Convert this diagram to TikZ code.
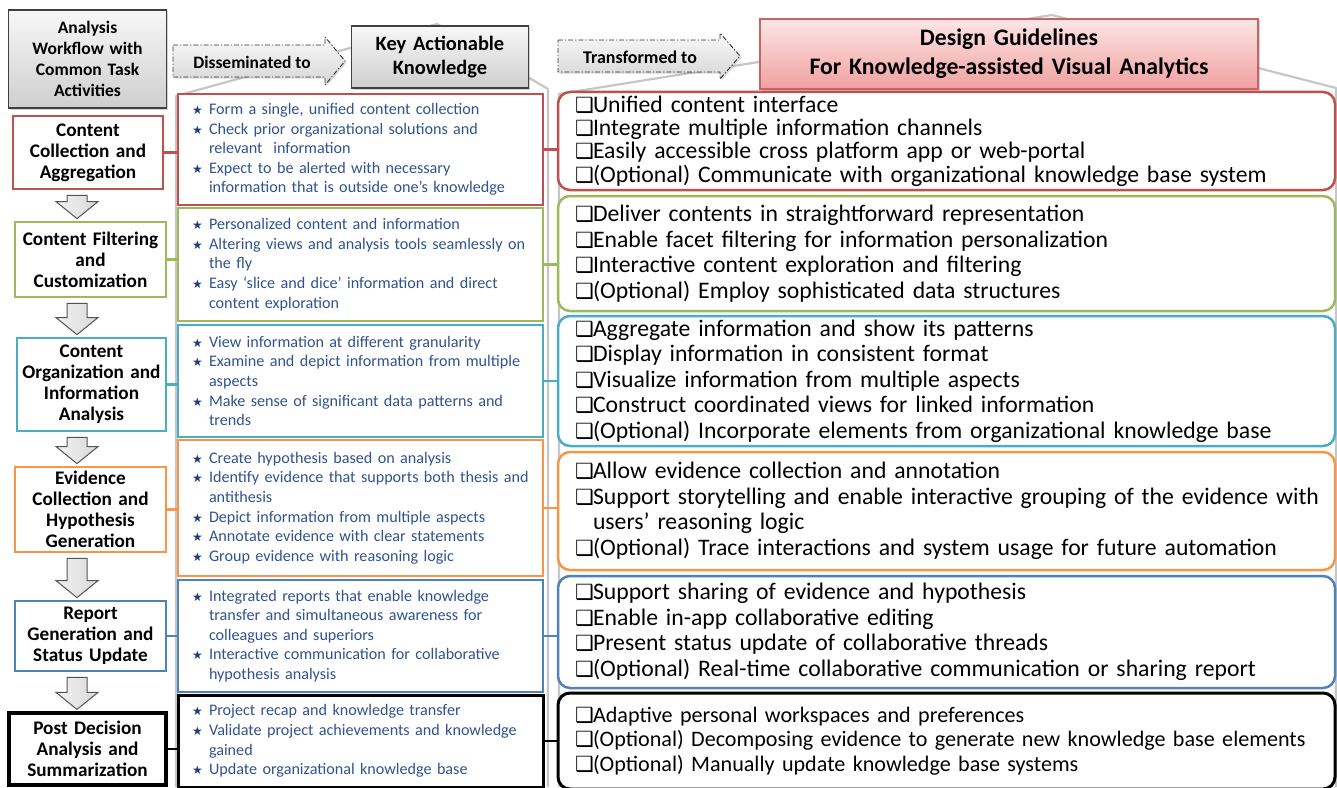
\documentclass[tikz,border=0pt]{standalone}
\usepackage{fontspec}
\setmainfont{Carlito}
\newfontfamily\symfont{DejaVu Sans}
\usetikzlibrary{calc,shadows}

\definecolor{cred}{HTML}{C0504D}
\definecolor{cgreen}{HTML}{9BBB59}
\definecolor{cteal}{HTML}{4BACC6}
\definecolor{corange}{HTML}{F79646}
\definecolor{cblue}{HTML}{4F81BD}
\definecolor{ktext}{HTML}{30538F}
\definecolor{kstar}{HTML}{1F3F7F}
\definecolor{pinktop}{HTML}{FDE6E6}
\definecolor{pinkbot}{HTML}{F0A0A0}
\definecolor{pinkline}{HTML}{C86464}

% bullet items of the knowledge column
\newcommand{\itm}[1]{\mbox{\makebox[17bp][l]{\color{kstar}\symfont\fontsize{12}{12}\selectfont ★}#1}}
\newcommand{\cnt}[1]{\mbox{\hspace*{17bp}#1}}
% check-box items of the guideline column
\newcommand{\chk}[1]{\mbox{\makebox[18bp][l]{\symfont\fontsize{21}{21}\selectfont ❑}#1}}
\newcommand{\chkcnt}[1]{\mbox{\hspace*{18bp}#1}}

\begin{document}
\begin{tikzpicture}[x=1bp,y=-1bp,
  hdrbox/.style={draw=black!75, line width=1.2bp, top color=gray!6, bottom color=gray!38,
    align=center, font=\bfseries, drop shadow={shadow xshift=1.5bp, shadow yshift=-1.5bp, opacity=0.35}},
  pinkbox/.style={draw=pinkline, line width=1.2bp, top color=pinktop, bottom color=pinkbot,
    align=center, drop shadow={shadow xshift=1.5bp, shadow yshift=-1.5bp, opacity=0.35}},
  lbox/.style={draw=#1, line width=2.8bp, fill=white, align=center, inner xsep=3bp, inner ysep=0bp,
    font=\fontsize{19.3}{21}\selectfont\bfseries},
  mbox/.style={draw=#1, line width=2.5bp, fill=white, align=left, inner xsep=14bp, inner ysep=0bp,
    text width=337bp, text=ktext, font=\fontsize{16.2}{19.7}\selectfont},
  rbox/.style={draw=#1, line width=2.5bp, rounded corners=12bp, fill=white, align=left,
    inner xsep=17bp, inner ysep=0bp, text width=743bp, font=\fontsize{23.8}{25.6}\selectfont},
  link/.style={draw=#1, line width=2.5bp},
  callout/.style={draw=gray!45, line width=2.2bp, line join=round},
  flatarrow/.style={draw=black!80, line width=0.9bp, dash pattern=on 5bp off 2bp on 1.2bp off 2bp,
    top color=gray!5, bottom color=gray!32,
    drop shadow={shadow xshift=1.5bp, shadow yshift=-1.5bp, opacity=0.3}},
  downarr/.style={draw=gray!65!black, line width=1bp, left color=gray!10, right color=gray!30}
]
\useasboundingbox (0,0) rectangle (1337,787);

% grey brackets linking each column to its heading
\draw[callout] (176,787) -- (176,96) -- (437,24) -- (548,89) -- (548,787);
\draw[callout] (559,787) -- (559,94) -- (1052,15) -- (1336,88) -- (1336,787);

% headings
\node[hdrbox, minimum width=155bp, minimum height=98bp, text width=151bp,
  font=\fontsize{17.6}{21.3}\selectfont\bfseries] (h0) at (87.5,59)
  {Analysis\\Workflow with\\Common Task\\Activities};
\node[hdrbox, minimum width=174bp, minimum height=62bp, text width=170bp,
  font=\fontsize{20.5}{24}\selectfont\bfseries] (key) at (440,57)
  {Key Actionable\\Knowledge};
\node[pinkbox, minimum width=498bp, minimum height=70bp, text width=490bp,
  font=\fontsize{23.8}{29}\selectfont\bfseries] (des) at (1009,54)
  {Design Guidelines\\For Knowledge-assisted Visual Analytics};

% arrow labels between the headings
\draw[flatarrow] (173,45) -- (325,45) -- (325,37) -- (345,61) -- (325,85) -- (325,77) -- (173,77) -- cycle;
\node[font=\fontsize{17.5}{18}\selectfont\bfseries] (dis) at (252,62) {Disseminated to};
\draw[flatarrow] (558,40) -- (720,40) -- (720,33) -- (740,56) -- (720,79) -- (720,72) -- (558,72) -- cycle;
\node[font=\fontsize{18}{18}\selectfont\bfseries] (trn) at (640,57) {Transformed to};

% workflow activities
\node[lbox=cred, text width=144bp, minimum height=73bp] (l1) at (88,152.5)
  {Content\\Collection and\\Aggregation};
\node[lbox=cgreen, text width=145bp, minimum height=75bp] (l2) at (90.5,259.5)
  {Content Filtering\\and\\Customization};
\node[lbox=cteal, text width=143bp, minimum height=93bp] (l3) at (91.5,384.5)
  {Content\\Organization and\\Information\\Analysis};
\node[lbox=corange, text width=145bp, minimum height=85bp] (l4) at (90.5,509.5)
  {Evidence\\Collection and\\Hypothesis\\Generation};
\node[lbox=cblue, text width=145bp, minimum height=70bp] (l5) at (90.5,636)
  {Report\\Generation and\\Status Update};
\node[lbox=black, line width=3.2bp, text width=151bp, minimum height=72bp] (l6) at (87.5,749)
  {Post Decision\\Analysis and\\Summarization};

% key actionable knowledge
\node[mbox=cred, minimum height=111bp] (m1) at (360.5,149.5)
  {\itm{Form a single, unified content collection}\\
   \itm{Check prior organizational solutions and}\\
   \cnt{relevant\ \ information}\\
   \itm{Expect to be alerted with necessary}\\
   \cnt{information that is outside one’s knowledge}};
\node[mbox=cgreen, minimum height=113bp] (m2) at (360.5,264.5)
  {\itm{Personalized content and information}\\
   \itm{Altering views and analysis tools seamlessly on}\\
   \cnt{the fly}\\
   \itm{Easy ‘slice and dice’ information and direct}\\
   \cnt{content exploration}};
\node[mbox=cteal, minimum height=112bp] (m3) at (360.5,381)
  {\itm{View information at different granularity}\\
   \itm{Examine and depict information from multiple}\\
   \cnt{aspects}\\
   \itm{Make sense of significant data patterns and}\\
   \cnt{trends}};
\node[mbox=corange, minimum height=136bp] (m4) at (360.5,508)
  {\itm{Create hypothesis based on analysis}\\
   \itm{Identify evidence that supports both thesis and}\\
   \cnt{antithesis}\\
   \itm{Depict information from multiple aspects}\\
   \itm{Annotate evidence with clear statements}\\
   \itm{Group evidence with reasoning logic}};
\node[mbox=cblue, minimum height=112bp] (m5) at (360.5,636)
  {\itm{Integrated reports that enable knowledge}\\
   \cnt{transfer and simultaneous awareness for}\\
   \cnt{colleagues and superiors}\\
   \itm{Interactive communication for collaborative}\\
   \cnt{hypothesis analysis}};
\node[mbox=black, line width=3bp, minimum height=92bp] (m6) at (360.5,741)
  {\itm{Project recap and knowledge transfer}\\
   \itm{Validate project achievements and knowledge}\\
   \cnt{gained}\\
   \itm{Update organizational knowledge base}};

% design guidelines
\node[rbox=cred, minimum height=98bp, font=\fontsize{23.8}{23.4}\selectfont] (r1) at (946.5,141)
  {\chk{Unified content interface}\\
   \chk{Integrate multiple information channels}\\
   \chk{Easily accessible cross platform app or web-portal}\\
   \chk{(Optional) Communicate with organizational knowledge base system}};
\node[rbox=cgreen, minimum height=115bp] (r2) at (946.5,253.5)
  {\chk{Deliver contents in straightforward representation}\\
   \chk{Enable facet filtering for information personalization}\\
   \chk{Interactive content exploration and filtering}\\
   \chk{(Optional) Employ sophisticated data structures}};
\node[rbox=cteal, minimum height=130bp] (r3) at (946.5,381)
  {\chk{Aggregate information and show its patterns}\\
   \chk{Display information in consistent format}\\
   \chk{Visualize information from multiple aspects}\\
   \chk{Construct coordinated views for linked information}\\
   \chk{(Optional) Incorporate elements from organizational knowledge base}};
\node[rbox=corange, minimum height=118bp] (r4) at (946.5,511)
  {\chk{Allow evidence collection and annotation}\\
   \chk{Support storytelling and enable interactive grouping of the evidence with}\\
   \chkcnt{users’ reasoning logic}\\
   \chk{(Optional) Trace interactions and system usage for future automation}};
\node[rbox=cblue, minimum height=112bp] (r5) at (946.5,632)
  {\chk{Support sharing of evidence and hypothesis}\\
   \chk{Enable in-app collaborative editing}\\
   \chk{Present status update of collaborative threads}\\
   \chk{(Optional) Real-time collaborative communication or sharing report}};
\node[rbox=black, line width=3bp, minimum height=96bp, font=\fontsize{22.2}{24.5}\selectfont] (r6) at (946.5,741)
  {\chk{Adaptive personal workspaces and preferences}\\
   \chk{(Optional) Decomposing evidence to generate new knowledge base elements}\\
   \chk{(Optional) Manually update knowledge base systems}};

% links activity -> knowledge -> guideline
\foreach \i/\c in {1/cred,2/cgreen,3/cteal,4/corange,5/cblue,6/black}{
  \draw[link=\c] (l\i.east) -- (l\i.east -| m\i.west);
  \draw[link=\c] (m\i.east) -- (m\i.east -| r\i.west);
}

% block arrows down the workflow
\foreach \a/\b in {l1/l2,l2/l3,l3/l4,l4/l5,l5/l6}{
  \path let \p1=(\a.south), \p2=(\b.north) in
    coordinate (s) at (0,\y1-5bp) coordinate (t) at (0,\y2+2bp);
  \draw[downarr] let \p1=(s), \p2=(t) in
    (67bp,\y1) -- (87bp,\y1) -- (87bp,\y2+17bp) -- (98bp,\y2+17bp) -- (77bp,\y2)
    -- (56bp,\y2+17bp) -- (67bp,\y2+17bp) -- cycle;
}
\end{tikzpicture}
\end{document}
